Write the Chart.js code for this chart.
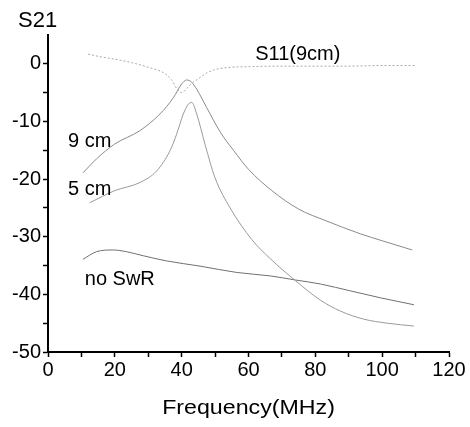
<!DOCTYPE html>
<html>
<head>
<meta charset="utf-8">
<script src="https://cdn.jsdelivr.net/npm/chart.js@4"></script>
<style>
  html, body { margin: 0; padding: 0; background: #fff; }
  #wrap { width: 470px; height: 427px; position: relative; }
</style>
</head>
<body>
<div id="wrap"><canvas id="chart"></canvas></div>
<script>
// data (frequency in MHz, S in dB)
const freqS11 = [12, 15, 20, 25, 30, 35, 37, 38.5, 40, 41.5, 43, 45, 47.5, 50, 55, 60, 70, 80, 90, 100, 110];
const s11 = [1.7, 1.3, 0.8, 0.2, -0.6, -1.7, -2.8, -4.3, -5.0, -4.3, -3.4, -2.6, -1.6, -1.0, -0.6, -0.5, -0.4, -0.4, -0.4, -0.3, -0.3];

const freq9cm = [10.5, 14.5, 20, 27.5, 33.5, 37.5, 40, 41.5, 43, 44.5, 47.5, 51.5, 55.5, 60, 67, 75, 83.5, 93.5, 100, 109];
const s21_9cm = [-18.9, -16.5, -13.9, -11.6, -8.7, -5.9, -3.5, -2.8, -3.2, -4.4, -7.6, -11.8, -15.0, -18.3, -22, -25.2, -27.3, -29.5, -30.7, -32.3];

const freq5cm = [12.5, 20, 27.5, 32.5, 36.5, 38.5, 40.5, 42, 43, 44.5, 47, 50, 54.5, 61, 66.5, 74, 81.5, 87.5, 94.5, 101.5, 109.5];
const s21_5cm = [-24.1, -22.0, -20.6, -18.6, -15.1, -12.2, -8.7, -7.0, -6.7, -8.7, -14, -19.8, -25, -30.5, -33.8, -37.6, -41.0, -42.9, -44.3, -45.0, -45.5];

const freqNoSwR = [10.5, 14.5, 19.5, 23.5, 28.5, 35.5, 45.5, 56.5, 66.5, 74, 81.5, 90.5, 99.5, 109.5];
const s21_noSwR = [-33.9, -32.6, -32.3, -32.6, -33.3, -34.2, -35.1, -36.2, -36.8, -37.5, -38.2, -39.4, -40.6, -41.8];

const xTicks = [0, 20, 40, 60, 80, 100, 120];
const yTicks = [0, -10, -20, -30, -40, -50];

// labels: text, x, y (data units)
const curveLabels = [
    { text: 'S11(9cm)', x: 62, y: 1.6 },
    { text: '9 cm', x: 6, y: -13.5 },
    { text: '5 cm', x: 6, y: -21.8 },
    { text: 'no SwR', x: 11, y: -37.4 }
];

const FONT = "'Liberation Sans', Arial, sans-serif";

function toPoints(xs, ys) {
    return xs.map((x, i) => ({ x: x, y: ys[i] }));
}

const textPlugin = {
    id: 'textPlugin',
    afterDraw(chart) {
        const { ctx, chartArea, scales } = chart;
        ctx.save();
        ctx.fillStyle = '#000';
        ctx.textBaseline = 'middle';
        ctx.textAlign = 'left';
        ctx.font = '20px ' + FONT;
        curveLabels.forEach(l => {
            ctx.fillText(l.text, scales.x.getPixelForValue(l.x), scales.y.getPixelForValue(l.y));
        });
        // axis titles
        ctx.textBaseline = 'alphabetic';
        ctx.font = '22px ' + FONT;
        ctx.fillText('S21', chartArea.left - 30, chartArea.top - 8);
        ctx.textAlign = 'center';
        ctx.font = '20px ' + FONT;
        const cx = (chartArea.left + chartArea.right) / 2;
        ctx.translate(cx, chartArea.bottom + 62);
        ctx.scale(1.16, 1);
        ctx.fillText('Frequency(MHz)', 0, 0);
        ctx.restore();
    }
};

const ctx = document.getElementById('chart').getContext('2d');
new Chart(ctx, {
    type: 'line',
    data: {
        datasets: [
            { label: 'S11(9cm)', data: toPoints(freqS11, s11), borderColor: '#a8a8a8', borderDash: [2, 2] },
            { label: '9 cm', data: toPoints(freq9cm, s21_9cm), borderColor: '#8a8a8a' },
            { label: '5 cm', data: toPoints(freq5cm, s21_5cm), borderColor: '#9a9a9a' },
            { label: 'no SwR', data: toPoints(freqNoSwR, s21_noSwR), borderColor: '#707070' }
        ].map(d => Object.assign(d, { borderWidth: 1, pointRadius: 0, cubicInterpolationMode: 'monotone', fill: false }))
    },
    options: {
        responsive: true,
        maintainAspectRatio: false,
        animation: false,
        layout: { padding: { top: 35, right: 21, left: 0, bottom: 0 } },
        plugins: { legend: { display: false }, tooltip: { enabled: false } },
        scales: {
            x: {
                type: 'linear', min: 0, max: 120,
                afterFit(scale) { scale.height = 75; },
                afterBuildTicks(scale) {
                    const t = [];
                    for (let v = 0; v <= 120; v += 10) t.push({ value: v });
                    scale.ticks = t;
                },
                ticks: {
                    color: '#000', font: { size: 20, family: FONT }, padding: 1, maxRotation: 0, autoSkip: false,
                    callback: v => xTicks.includes(v) ? String(v) : ''
                },
                grid: { drawOnChartArea: false, drawTicks: true, tickLength: 5, color: '#000', tickWidth: 1.5 },
                border: { display: true, color: '#000', width: 2 }
            },
            y: {
                type: 'linear', min: -50, max: 5,
                afterFit(scale) { scale.width = 48; },
                afterBuildTicks(scale) {
                    const t = [];
                    for (let v = -50; v <= 0; v += 5) t.push({ value: v });
                    scale.ticks = t;
                },
                ticks: {
                    color: '#000', font: { size: 20, family: FONT }, padding: 2, autoSkip: false,
                    callback: v => yTicks.includes(v) ? String(v) : ''
                },
                grid: { drawOnChartArea: false, drawTicks: true, tickLength: 5, color: '#000', tickWidth: 1.5 },
                border: { display: true, color: '#000', width: 2 }
            }
        }
    },
    plugins: [textPlugin]
});
</script>
</body>
</html>
